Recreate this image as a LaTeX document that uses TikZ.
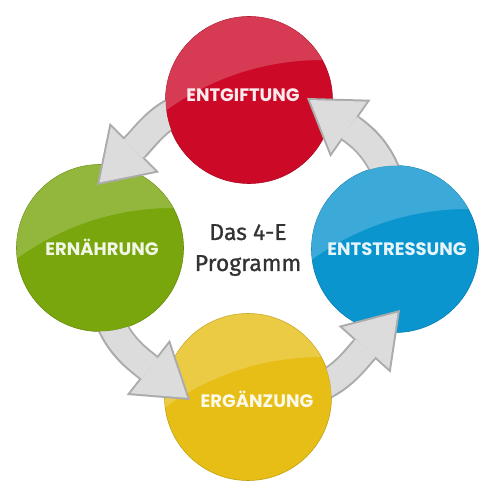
\documentclass[tikz,border=0pt]{standalone}
\usepackage{fontspec}
\usetikzlibrary{arrows.meta,positioning}
\newfontfamily\tagfont{Poppins}
\newfontfamily\progfont{Fira Sans}[FakeBold=0.8]
\definecolor{entgred}{HTML}{CC0A28}
\definecolor{erngreen}{HTML}{78A60C}
\definecolor{ergyellow}{HTML}{E6BE16}
\definecolor{entstblue}{HTML}{0A95CF}
\definecolor{flowgray}{HTML}{ABABAB}
\definecolor{flowlight}{HTML}{DCDCDC}
\definecolor{proggray}{HTML}{333333}
\tikzset{ball/.style={circle,minimum size=167pt,inner sep=0pt,fill=#1,draw=#1!85!black,line width=.6pt}}
\tikzstyle{tag} = [font=\tagfont\bfseries\fontsize{18}{20}\selectfont,text height=13pt,text depth=0pt,inner sep=0pt]
\tikzstyle{prog} = [font=\progfont\fontsize{23}{31}\selectfont,text=proggray,align=center]
\tikzstyle{flowout} = [line width=30pt,draw=flowgray,-{Triangle[width=70pt,length=53pt,line width=0pt]}]
\tikzstyle{flowin} = [line width=26pt,draw=flowlight,shorten >=3.6pt,-{Triangle[width=62.6pt,length=47.4pt,line width=0pt]}]
\def \rad {83.5pt}

\begin{document}
\begin{tikzpicture}[x=1pt,y=1pt]
  \useasboundingbox (0,0) rectangle (497,-497);
  % balls
  \node[ball=entgred] (entg) at (249,-100) {};
  \node[ball=erngreen] (ern) at (100,-248) {};
  \node[ball=entstblue] (entst) at (395,-249) {};
  \node[ball=ergyellow] (erg) at (248,-397) {};
  % gloss
  \foreach \b in {entg,ern,entst,erg}{
    \begin{scope}
      \clip (\b.center) circle[radius=\rad];
      \fill[white,opacity=.2,even odd rule] (\b.center) circle[radius=90pt]
        ([shift={(73,-226)}]\b.center) circle[radius=266pt];
    \end{scope}
  }
  % arrow tips
  \coordinate (ernTip) at (97,-185);
  \coordinate (ergTip) at (190,-400);
  \coordinate (entstTip) at (400,-310);
  \coordinate (entgTip) at (307,-98);
  % arrows
  \foreach \src/\dst/\o/\i in {entg/ernTip/175/45, ern/ergTip/267/142,
      erg/entstTip/356/228, entst/entgTip/86/325}{
    \begin{scope}
      \clip (0,0) -- (497,0) -- (497,-497) -- (0,-497) -- cycle
        (\src.center) circle[radius=\rad];
      \draw[flowout] (\src.center) to[out=\o,in=\i,looseness=1.15] (\dst);
      \draw[flowin] (\src.center) to[out=\o,in=\i,looseness=1.15] (\dst);
    \end{scope}
  }
  % labels
  \node[tag,text=white!92!entgred] (entgTag) at ([shift={(-6,5)}]entg.center) {ENTGIFTUNG};
  \node[tag,text=white!90!erngreen] (ernTag) at ([shift={(2,-1)}]ern.center) {ERNÄHRUNG};
  \node[tag,text=white!90!entstblue] (entstTag) at ([shift={(2,0)}]entst.center) {ENTSTRESSUNG};
  \node[tag,text=white!90!ergyellow] (ergTag) at ([shift={(9,-4)}]erg.center) {ERGÄNZUNG};
  \node[prog] (title) at (248,-250) {Das 4-E\\Programm};
\end{tikzpicture}
\end{document}
